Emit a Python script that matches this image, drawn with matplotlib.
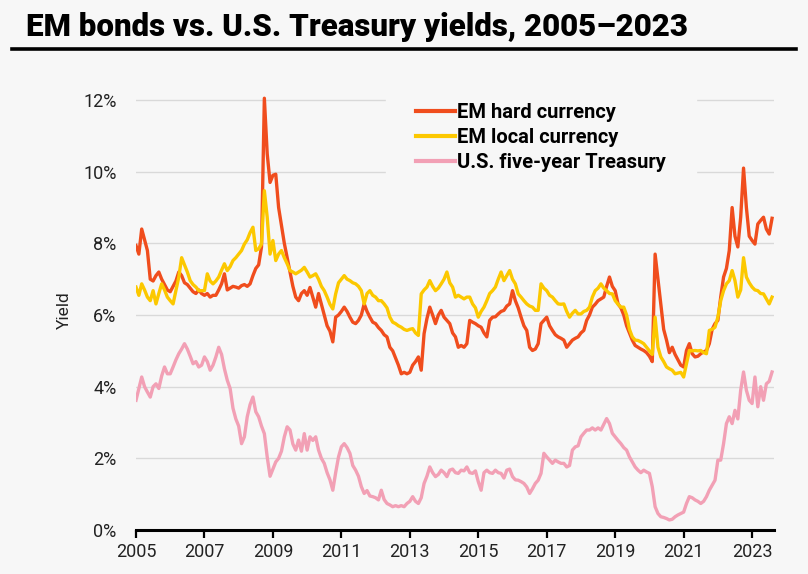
import numpy as np
import matplotlib.pyplot as plt
from matplotlib.lines import Line2D

plt.rcParams["font.family"] = ["Roboto", "DejaVu Sans"]

# ---------------------------------------------------------------------------
# Data: monthly readings, Jan 2005 .. Aug 2023 (yield, %)
# ---------------------------------------------------------------------------
start_year = 2005

em_hard = [
    7.94, 7.70, 8.40, 8.10, 7.80, 7.00, 6.95, 7.10, 7.20, 7.00, 6.85, 6.70,  # 2005
    6.65, 6.80, 6.95, 7.20, 7.10, 6.90, 6.85, 6.75, 6.65, 6.60, 6.70, 6.60,  # 2006
    6.55, 6.60, 6.50, 6.55, 6.55, 6.70, 6.87, 7.15, 6.70, 6.75, 6.80, 6.78,  # 2007
    6.75, 6.82, 6.85, 6.80, 6.87, 7.10, 7.30, 7.40, 7.90, 12.05, 10.5, 9.70,  # 2008
    9.90, 9.93, 9.00, 8.50, 8.00, 7.60, 7.20, 6.80, 6.50, 6.40, 6.60, 6.68,  # 2009
    6.55, 6.77, 6.50, 6.22, 6.60, 6.30, 6.00, 5.70, 5.55, 5.25, 5.94, 6.00,  # 2010
    6.10, 6.22, 6.10, 5.94, 5.80, 5.76, 5.85, 6.00, 6.31, 6.10, 5.94, 5.80,  # 2011
    5.76, 5.65, 5.57, 5.45, 5.39, 5.10, 5.00, 4.80, 4.60, 4.36, 4.40, 4.36,  # 2012
    4.40, 4.60, 4.70, 4.83, 4.46, 5.48, 5.90, 6.22, 6.00, 5.76, 6.00, 6.13,  # 2013
    5.94, 5.85, 5.76, 5.50, 5.39, 5.10, 5.15, 5.10, 5.20, 5.85, 5.80, 5.76,  # 2014
    5.70, 5.66, 5.50, 5.39, 5.85, 5.94, 5.95, 6.03, 6.10, 6.13, 6.25, 6.31,  # 2015
    6.68, 6.40, 6.20, 5.94, 5.70, 5.57, 5.10, 5.01, 5.05, 5.20, 5.76, 5.85,  # 2016
    5.94, 5.70, 5.57, 5.45, 5.39, 5.35, 5.30, 5.10, 5.20, 5.30, 5.35, 5.39,  # 2017
    5.50, 5.57, 5.85, 6.00, 6.22, 6.30, 6.40, 6.45, 6.50, 6.80, 7.06, 6.80,  # 2018
    6.68, 6.31, 6.20, 6.00, 5.70, 5.50, 5.30, 5.15, 5.10, 5.05, 5.01, 4.95,  # 2019
    4.85, 4.70, 7.70, 7.00, 6.30, 5.60, 5.30, 4.95, 5.10, 4.90, 4.75, 4.60,  # 2020
    4.55, 5.01, 5.20, 4.92, 4.83, 4.85, 4.92, 4.97, 5.01, 5.20, 5.60, 5.76,  # 2021
    5.85, 6.50, 7.06, 7.30, 7.80, 9.00, 8.20, 7.90, 8.73, 10.10, 9.00, 8.20,  # 2022
    8.08, 7.98, 8.54, 8.64, 8.73, 8.40, 8.26, 8.70,                          # 2023
]

em_local = [
    6.78, 6.55, 6.87, 6.70, 6.50, 6.40, 6.68, 6.31, 6.60, 6.87, 6.70, 6.50,  # 2005
    6.40, 6.31, 6.68, 7.06, 7.60, 7.40, 7.20, 6.96, 6.85, 6.78, 6.68, 6.68,  # 2006
    6.68, 7.15, 6.95, 6.87, 6.95, 7.06, 7.25, 7.43, 7.24, 7.35, 7.52, 7.60,  # 2007
    7.70, 7.80, 7.98, 8.10, 8.30, 8.45, 7.80, 7.85, 7.98, 9.47, 8.73, 7.70,  # 2008
    8.08, 7.52, 7.70, 7.80, 7.60, 7.43, 7.24, 7.20, 7.15, 7.20, 7.25, 7.33,  # 2009
    7.20, 7.06, 7.10, 7.15, 7.00, 6.80, 6.68, 6.50, 6.30, 6.17, 6.59, 6.90,  # 2010
    7.00, 7.10, 7.00, 6.96, 6.90, 6.87, 6.80, 6.68, 6.31, 6.60, 6.68, 6.55,  # 2011
    6.50, 6.40, 6.40, 6.31, 6.20, 5.94, 5.80, 5.76, 5.70, 5.66, 5.60, 5.57,  # 2012
    5.60, 5.62, 5.50, 5.43, 6.59, 6.70, 6.78, 6.96, 6.80, 6.68, 6.75, 6.87,  # 2013
    7.00, 7.20, 6.90, 6.78, 6.50, 6.55, 6.50, 6.45, 6.50, 6.50, 6.31, 6.20,  # 2014
    5.94, 6.10, 6.22, 6.40, 6.60, 6.68, 6.78, 7.00, 7.20, 6.96, 7.10, 7.24,  # 2015
    7.00, 6.87, 6.59, 6.50, 6.40, 6.31, 6.25, 6.22, 6.13, 6.13, 6.87, 6.75,  # 2016
    6.68, 6.55, 6.50, 6.40, 6.31, 6.30, 6.31, 6.10, 5.94, 6.05, 6.13, 6.03,  # 2017
    6.03, 6.10, 6.13, 6.22, 6.50, 6.68, 6.75, 6.87, 6.75, 6.68, 6.60, 6.59,  # 2018
    6.40, 6.30, 6.22, 6.22, 6.00, 5.60, 5.39, 5.30, 5.29, 5.25, 5.20, 5.10,  # 2019
    5.00, 4.90, 5.94, 5.10, 4.83, 4.70, 4.55, 4.50, 4.46, 4.36, 4.38, 4.40,  # 2020
    4.27, 4.64, 5.01, 5.00, 5.01, 5.00, 5.01, 4.95, 4.92, 5.57, 5.60, 5.66,  # 2021
    5.94, 6.40, 6.68, 6.87, 6.96, 7.24, 6.96, 6.50, 6.70, 7.60, 7.06, 6.90,  # 2022
    6.78, 6.70, 6.68, 6.60, 6.59, 6.45, 6.31, 6.50,                          # 2023
]

us_5y = [
    3.62, 3.95, 4.27, 4.00, 3.85, 3.71, 4.00, 4.08, 3.95, 4.30, 4.55, 4.36,  # 2005
    4.36, 4.55, 4.75, 4.92, 5.05, 5.20, 5.05, 4.85, 4.64, 4.70, 4.55, 4.60,  # 2006
    4.83, 4.70, 4.46, 4.60, 4.83, 5.10, 4.90, 4.50, 4.18, 3.95, 3.40, 3.10,  # 2007
    2.90, 2.41, 2.60, 3.16, 3.50, 3.71, 3.30, 3.16, 2.90, 2.69, 2.04, 1.50,  # 2008
    1.70, 1.90, 2.00, 2.20, 2.60, 2.88, 2.79, 2.40, 2.23, 2.51, 2.20, 2.69,  # 2009
    2.23, 2.60, 2.50, 2.60, 2.23, 2.00, 1.86, 1.60, 1.40, 1.11, 1.60, 2.04,  # 2010
    2.32, 2.41, 2.30, 2.14, 1.80, 1.67, 1.50, 1.21, 1.02, 1.10, 0.95, 0.93,  # 2011
    0.90, 0.84, 1.11, 0.85, 0.74, 0.70, 0.65, 0.68, 0.65, 0.68, 0.65, 0.74,  # 2012
    0.80, 0.93, 0.80, 0.74, 0.90, 1.30, 1.50, 1.76, 1.60, 1.49, 1.55, 1.67,  # 2013
    1.60, 1.49, 1.67, 1.70, 1.60, 1.58, 1.67, 1.65, 1.76, 1.60, 1.58, 1.65,  # 2014
    1.35, 1.11, 1.60, 1.67, 1.60, 1.58, 1.67, 1.60, 1.58, 1.45, 1.67, 1.70,  # 2015
    1.49, 1.40, 1.39, 1.35, 1.30, 1.20, 1.02, 1.15, 1.30, 1.39, 1.58, 2.14,  # 2016
    2.04, 1.95, 1.86, 1.95, 1.90, 1.86, 1.86, 1.76, 1.80, 2.23, 2.32, 2.35,  # 2017
    2.60, 2.70, 2.79, 2.79, 2.85, 2.79, 2.85, 2.79, 2.95, 3.11, 2.97, 2.70,  # 2018
    2.60, 2.50, 2.41, 2.30, 2.23, 2.04, 1.90, 1.76, 1.67, 1.60, 1.67, 1.62,  # 2019
    1.58, 1.21, 0.65, 0.46, 0.37, 0.35, 0.32, 0.28, 0.30, 0.37, 0.42, 0.46,  # 2020
    0.50, 0.74, 0.93, 0.90, 0.84, 0.80, 0.74, 0.80, 0.93, 1.11, 1.25, 1.39,  # 2021
    1.95, 1.95, 2.41, 2.97, 3.16, 2.97, 3.34, 3.10, 3.90, 4.41, 3.90, 3.62,  # 2022
    3.53, 4.27, 3.44, 4.00, 3.62, 4.08, 4.15, 4.41,                          # 2023
]

series_labels = ["EM hard currency", "EM local currency", "U.S. five-year Treasury"]
year_ticks = list(range(2005, 2024, 2))
pct_ticks = [0, 2, 4, 6, 8, 10, 12]

dates = start_year + np.arange(len(em_hard)) / 12.0

# ---------------------------------------------------------------------------
# Styling
# ---------------------------------------------------------------------------
BG = "#f7f7f7"
RED = "#f04d1d"
YELLOW = "#fcc800"
PINK = "#f2a0b5"
GRID = "#d9d9d9"

fig = plt.figure(figsize=(8.08, 5.74), dpi=100)
fig.patch.set_facecolor(BG)

ax = fig.add_axes([136 / 808, 44 / 574, 638 / 808, 12.3 * 35.83 / 574])
ax.set_facecolor(BG)

ax.plot(dates, us_5y, color=PINK, lw=2.4, label=series_labels[2], zorder=3)
ax.plot(dates, em_hard, color=RED, lw=2.4, label=series_labels[0], zorder=4)
ax.plot(dates, em_local, color=YELLOW, lw=2.4, label=series_labels[1], zorder=5)

ax.set_xlim(2005, 2023.64)
ax.set_ylim(0, 12.3)

ax.set_xticks(year_ticks)
ax.set_xticklabels([str(y) for y in year_ticks])
ax.set_yticks(pct_ticks)
ax.set_yticklabels([f"{p}%" for p in pct_ticks])

ax.tick_params(axis="x", length=5.5, width=1.6, color="black", pad=4,
               labelsize=13, labelcolor="#222222")
ax.tick_params(axis="y", length=0, pad=14, labelsize=13, labelcolor="#222222")

for s in ["top", "right", "left"]:
    ax.spines[s].set_visible(False)
ax.spines["bottom"].set_linewidth(2.2)
ax.spines["bottom"].set_color("black")
ax.spines["bottom"].set_zorder(6)

ax.yaxis.grid(True, color=GRID, lw=1.0)
ax.set_axisbelow(True)

ax.set_ylabel("Yield", fontsize=12.5, color="#222222", labelpad=8)

# legend in the order shown on the chart
handles, labels = ax.get_legend_handles_labels()
order = [1, 2, 0]
leg = ax.legend([handles[i] for i in order], [labels[i] for i in order],
                loc="upper left", bbox_to_anchor=(376 / 808, 1 - 63 / 574),
                bbox_transform=fig.transFigure,
                frameon=True, facecolor=BG, edgecolor=BG, framealpha=1,
                fancybox=False, borderpad=1.5, handlelength=1.9,
                handletextpad=0.12, labelspacing=0.29,
                prop={"weight": "bold", "size": 14.5})
for line in leg.get_lines():
    line.set_linewidth(3.0)
leg.set_zorder(10)

# title and rule
fig.text(26 / 808, 1 - 36.5 / 574, "EM bonds vs. U.S. Treasury yields, 2005–2023",
         ha="left", va="baseline", fontsize=22.5, fontweight="heavy", color="black")
fig.add_artist(Line2D([12 / 808, 796 / 808], [1 - 48.5 / 574, 1 - 48.5 / 574],
                      color="black", lw=2.6, transform=fig.transFigure))

plt.savefig("out.png", dpi=100, facecolor=BG)
